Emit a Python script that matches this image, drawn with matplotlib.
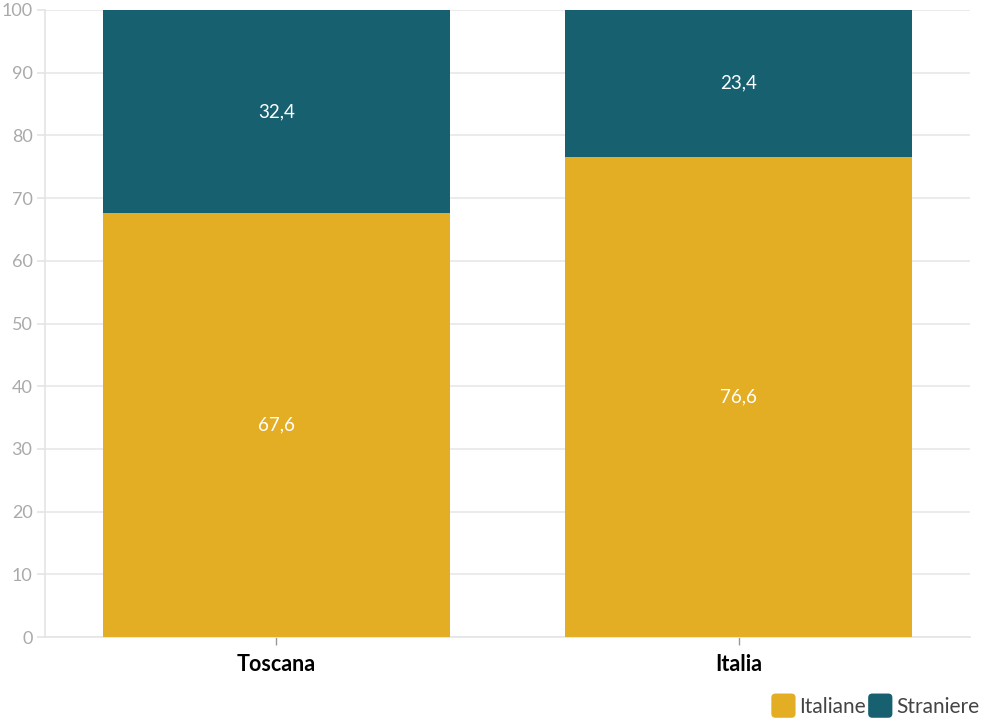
import matplotlib
matplotlib.use("Agg")
import matplotlib.pyplot as plt
from matplotlib.patches import FancyBboxPatch
from matplotlib.legend_handler import HandlerPatch

plt.rcParams['font.family'] = ['Lato', 'DejaVu Sans']

categories = ["Toscana", "Italia"]
italiane = [67.6, 76.6]
straniere = [32.4, 23.4]
series_names = ["Italiane", "Straniere"]
colors = ["#E3AE24", "#17606F"]
yticks = [0, 10, 20, 30, 40, 50, 60, 70, 80, 90, 100]

fig = plt.figure(figsize=(9.84, 7.19), dpi=100)
ax = fig.add_axes([0.0457, 0.1140, 0.9401, 0.8721])

x = list(range(len(categories)))
width = 0.75
b1 = ax.bar(x, italiane, width, color=colors[0], label=series_names[0], zorder=3)
b2 = ax.bar(x, straniere, width, bottom=italiane, color=colors[1], label=series_names[1], zorder=3)

def fmt(v):
    return f"{v:.1f}".replace(".", ",")

for xi, a, s in zip(x, italiane, straniere):
    ax.text(xi, a / 2, fmt(a), ha="center", va="center", color="white", fontsize=13.5, zorder=4)
    ax.text(xi, a + s / 2, fmt(s), ha="center", va="center", color="white", fontsize=13.5, zorder=4)

ax.set_xlim(-0.5, 1.5)
ax.set_ylim(0, 100)
ax.set_yticks(yticks)
ax.set_xticks(x)
ax.set_xticklabels(categories, fontsize=15.5, fontweight="bold", color="black")
ax.grid(axis="y", color="#e8e8e8", linewidth=1.2, zorder=0)
for side in ["top", "right"]:
    ax.spines[side].set_visible(False)
for side in ["left", "bottom"]:
    ax.spines[side].set_color("#e4e4e4")
    ax.spines[side].set_linewidth(1.2)
ax.tick_params(axis="y", colors="#e4e4e4", labelcolor="#aaaaaa", labelsize=13, length=6, width=1.2, pad=3)
ax.tick_params(axis="x", colors="#999999", labelcolor="black", length=6, width=1, pad=6)


class RoundHandler(HandlerPatch):
    def create_artists(self, legend, orig_handle, xdescent, ydescent, width, height, fontsize, trans):
        size = min(width, height) * 1.3
        p = FancyBboxPatch((-xdescent + (width - size) / 2, -ydescent + (height - size) / 2), size, size,
                           boxstyle="round,pad=0,rounding_size=3",
                           facecolor=orig_handle.get_facecolor(), edgecolor="none", transform=trans)
        return [p]

handles = [b1.patches[0], b2.patches[0]]
leg = fig.legend(handles, series_names, loc="lower right", bbox_to_anchor=(1.014, -0.023),
                 ncol=2, frameon=False, fontsize=15, handlelength=1.0, handleheight=1.0,
                 handletextpad=0.25, columnspacing=0.2,
                 handler_map={type(handles[0]): RoundHandler()})
for t in leg.get_texts():
    t.set_color("#444444")

fig.savefig("out.png", dpi=100, facecolor="white")
